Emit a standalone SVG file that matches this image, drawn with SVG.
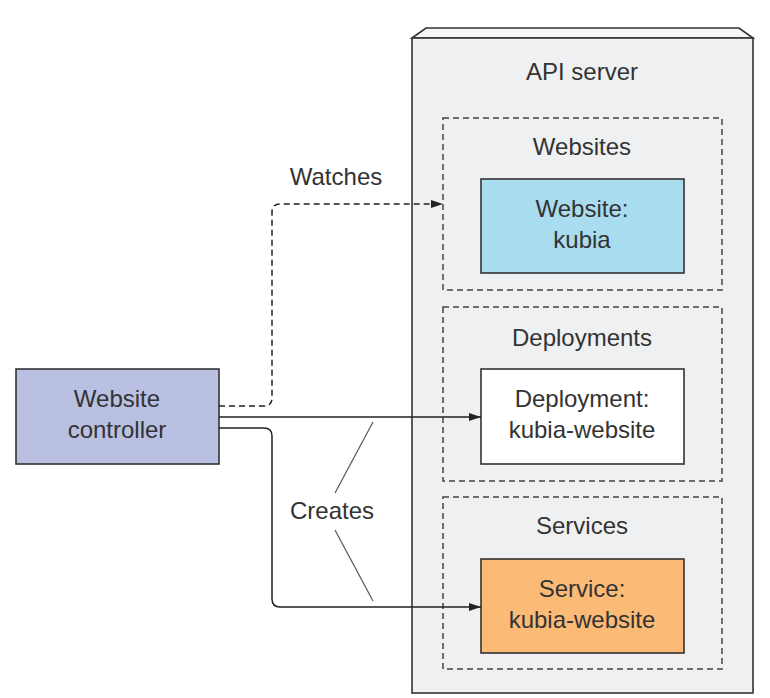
<svg xmlns="http://www.w3.org/2000/svg" width="770" height="698" viewBox="0 0 770 698">
<defs>
<style>
text{font-family:"Liberation Sans",Arial,sans-serif;font-size:24px;fill:#333;text-anchor:middle}
.box{stroke:#333;stroke-width:1.6}
.grp{fill:none;stroke:#444;stroke-width:1.5;stroke-dasharray:6 4}
.conn{fill:none;stroke:#222;stroke-width:1.5}
.dash{stroke-dasharray:6 4}
.tick{stroke:#555;stroke-width:1.2}
</style>
<marker id="ah" viewBox="0 0 12 8" refX="12" refY="4" markerWidth="12" markerHeight="8" markerUnits="userSpaceOnUse" orient="auto">
<path d="M0,0 L12,4 L0,8 Z" fill="#222"/>
</marker>
</defs>
<rect width="770" height="698" fill="#fff"/>
<g id="api-server">
<path class="box" d="M412,38 L426,28 L739,28 L753,38 Z" fill="#f4f5f6"/>
<rect class="box" x="412" y="38" width="341" height="655" fill="#eff0f2"/>
<text x="582" y="80">API server</text>
</g>
<g id="websites-group">
<rect class="grp" x="443" y="118" width="279" height="172"/>
<text x="582" y="155">Websites</text>
</g>
<g id="deployments-group">
<rect class="grp" x="443" y="307" width="279" height="174"/>
<text x="582" y="346">Deployments</text>
</g>
<g id="services-group">
<rect class="grp" x="443" y="497" width="279" height="172"/>
<text x="582" y="534">Services</text>
</g>
<g id="website-kubia">
<rect class="box" x="481" y="179" width="203" height="94" fill="#a8dcee"/>
<text x="582" y="217">Website:</text>
<text x="582" y="248">kubia</text>
</g>
<g id="deployment">
<rect class="box" x="481" y="369" width="203" height="95" fill="#fff"/>
<text x="582" y="407">Deployment:</text>
<text x="582" y="438">kubia-website</text>
</g>
<g id="service">
<rect class="box" x="481" y="559" width="203" height="94" fill="#fbbb77"/>
<text x="582" y="597">Service:</text>
<text x="582" y="628">kubia-website</text>
</g>
<g id="website-controller">
<rect class="box" x="16" y="369" width="203" height="95" fill="#b9c0e2"/>
<text x="117" y="407">Website</text>
<text x="117" y="438">controller</text>
</g>
<g id="connectors">
<path class="conn dash" d="M219,406 H264 Q272,406 272,398 V212 Q272,204 280,204 H443" marker-end="url(#ah)"/>
<path class="conn" d="M219,417 H481" marker-end="url(#ah)"/>
<path class="conn" d="M219,428 H264 Q272,428 272,436 V599 Q272,607 280,607 H481" marker-end="url(#ah)"/>
<line class="tick" x1="373" y1="422" x2="335" y2="493"/>
<line class="tick" x1="335" y1="530" x2="373" y2="601"/>
<text x="336" y="185">Watches</text>
<text x="332" y="519">Creates</text>
</g>
</svg>
